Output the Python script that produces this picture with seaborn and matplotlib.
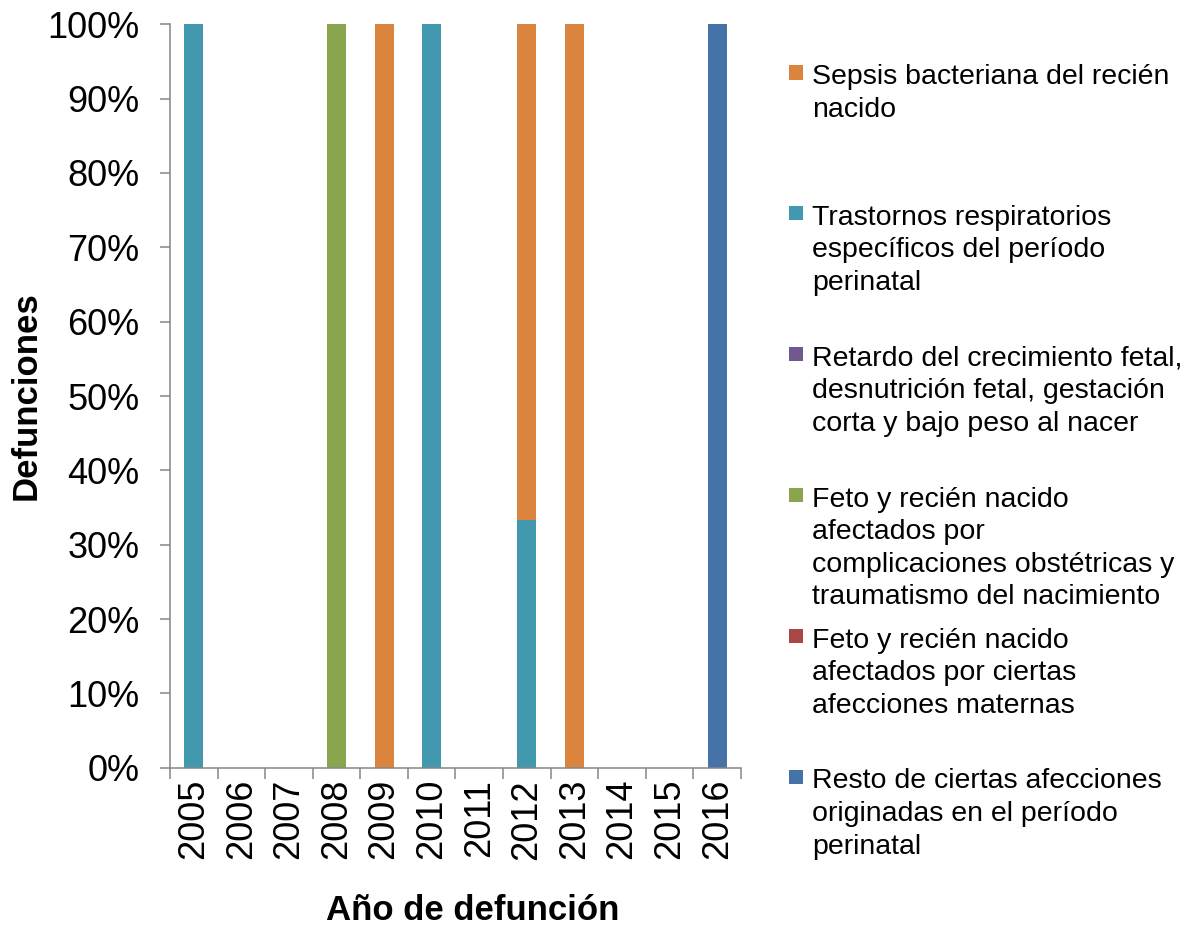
import matplotlib.pyplot as plt
import matplotlib.patches as mpatches
from matplotlib.legend_handler import HandlerPatch
from matplotlib.ticker import FixedLocator, PercentFormatter
import pandas as pd
import seaborn as sns

sns.set_theme(style="white")
plt.rcParams["font.family"] = ["Liberation Sans", "DejaVu Sans"]
plt.rcParams["text.color"] = "black"
plt.rcParams["axes.labelcolor"] = "black"
plt.rcParams["xtick.color"] = "black"
plt.rcParams["ytick.color"] = "black"

# Data: share of deaths (%) by cause and year of death
years = ["2005", "2006", "2007", "2008", "2009", "2010",
         "2011", "2012", "2013", "2014", "2015", "2016"]
resto = [0, 0, 0, 0, 0, 0, 0, 0, 0, 0, 0, 100]
feto_maternas = [0, 0, 0, 0, 0, 0, 0, 0, 0, 0, 0, 0]
feto_complicaciones = [0, 0, 0, 100, 0, 0, 0, 0, 0, 0, 0, 0]
retardo = [0, 0, 0, 0, 0, 0, 0, 0, 0, 0, 0, 0]
trastornos = [100, 0, 0, 0, 0, 100, 0, 33.33, 0, 0, 0, 0]
sepsis = [0, 0, 0, 0, 100, 0, 0, 66.67, 100, 0, 0, 0]

# stack order, bottom first
causes = [
    "Resto de ciertas afecciones\noriginadas en el período\nperinatal",
    "Feto y recién nacido\nafectados por ciertas\nafecciones maternas",
    "Feto y recién nacido\nafectados por\ncomplicaciones obstétricas y\ntraumatismo del nacimiento",
    "Retardo del crecimiento fetal,\ndesnutrición fetal, gestación\ncorta y bajo peso al nacer",
    "Trastornos respiratorios\nespecíficos del período\nperinatal",
    "Sepsis bacteriana del recién\nnacido",
]
colors = ["#4572A7", "#AA4643", "#89A54E", "#71588F", "#4198AF", "#DB843D"]

df = pd.DataFrame({"year": years})
for name, vals in zip(causes, [resto, feto_maternas, feto_complicaciones, retardo, trastornos, sepsis]):
    df[name] = vals
cum = df[causes].cumsum(axis=1)

fig, ax = plt.subplots(figsize=(12.01, 9.33), dpi=100)
fig.subplots_adjust(left=0.1415, right=0.617, bottom=0.177, top=0.974)

# draw cumulative totals from the top of the stack down
for name, col in reversed(list(zip(causes, colors))):
    sns.barplot(x=df["year"], y=cum[name], order=years, color=col, saturation=1,
                width=0.4, errorbar=None, linewidth=0, ax=ax)

gray = "#868686"
ax.set_xlim(-0.5, 11.5)
ax.set_ylim(0, 100)
ax.set_yticks(range(0, 101, 10))
ax.yaxis.set_major_formatter(PercentFormatter(100, decimals=0))
ax.set_xticks(range(len(years)))
ax.set_xticklabels(years, rotation=90)
ax.xaxis.set_minor_locator(FixedLocator([i - 0.5 for i in range(len(years) + 1)]))
ax.tick_params(axis="x", which="major", bottom=True, length=0, pad=8, labelsize=26)
ax.tick_params(axis="x", which="minor", bottom=True, length=8, width=1.1, color=gray)
ax.tick_params(axis="y", left=True, length=7, width=1.1, color=gray, pad=15, labelsize=26)
sns.despine(ax=ax)
for side in ["left", "bottom"]:
    ax.spines[side].set_color(gray)
    ax.spines[side].set_linewidth(1.1)

ax.set_xlabel("Año de defunción", fontsize=25, fontweight="bold", labelpad=25)
ax.xaxis.label.set_x(0.53)
ax.set_ylabel("Defunciones", fontsize=25, fontweight="bold", labelpad=3)


def top_square(legend, orig_handle, xdescent, ydescent, width, height, fontsize):
    s = 0.5 * fontsize
    return mpatches.Rectangle((-xdescent, 1.98 * fontsize), width, s)


handles = [mpatches.Patch(facecolor=c, linewidth=0) for c in reversed(colors)]
labels = []
for name in reversed(causes):
    labels.append(name + "\n" * (3 - name.count("\n")))
leg = ax.legend(handles, labels, loc="upper left", bbox_to_anchor=(0.657, 1 - 64 / 933),
                bbox_transform=fig.transFigure, frameon=False, fontsize=20.5,
                handlelength=0.5, handletextpad=0.3, borderpad=0, borderaxespad=0,
                labelspacing=0.6, handler_map={mpatches.Patch: HandlerPatch(patch_func=top_square)})
for t in leg.get_texts():
    t.set_linespacing(1.33)

fig.savefig("out.png", dpi=100)
